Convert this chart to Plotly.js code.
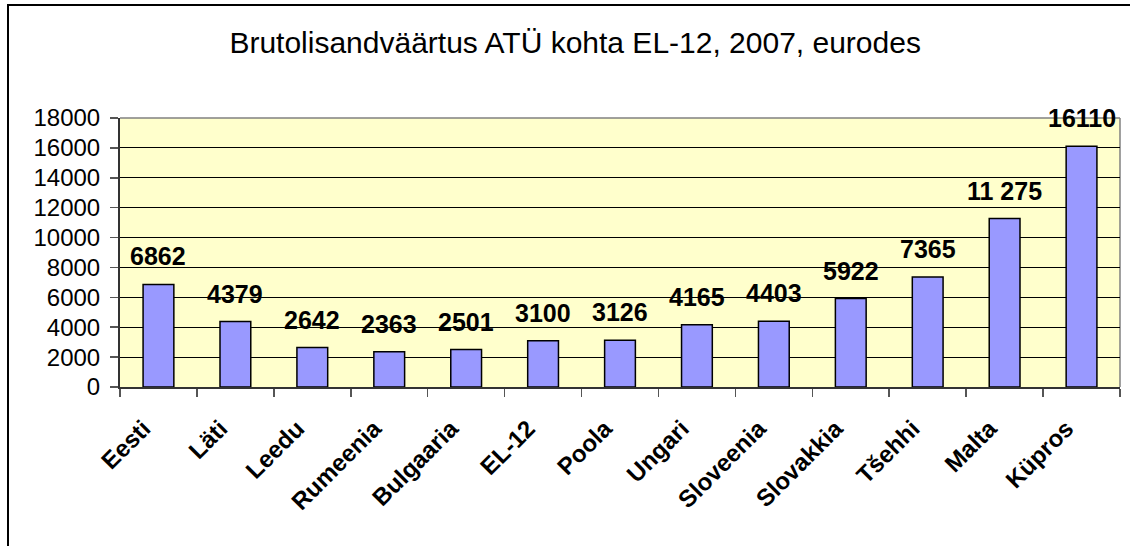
<!DOCTYPE html>
<html>
<head>
<meta charset="utf-8">
<script src="https://cdn.plot.ly/plotly-3.0.1.min.js"></script>
<style>html,body{margin:0;padding:0;background:#fff;}#chart{width:1130px;height:546px;}</style>
</head>
<body>
<div id="chart"></div>
<script>
const categories = ["Eesti", "Läti", "Leedu", "Rumeenia", "Bulgaaria", "EL-12", "Poola", "Ungari", "Sloveenia", "Slovakkia", "Tšehhi", "Malta", "Küpros"];
const values = [6862, 4379, 2642, 2363, 2501, 3100, 3126, 4165, 4403, 5922, 7365, 11275, 16110];
const valueLabels = ["6862", "4379", "2642", "2363", "2501", "3100", "3126", "4165", "4403", "5922", "7365", "11 275", "16110"];
const yTicks = [0, 2000, 4000, 6000, 8000, 10000, 12000, 14000, 16000, 18000];

const FONT = "Liberation Sans, Arial, sans-serif";

const trace = {
  type: "bar",
  x: categories,
  y: values,
  marker: { color: "#9999FF", line: { color: "#000000", width: 1.5 } },
  width: 0.4,
  hoverinfo: "x+y"
};

const annotations = categories.map((c, i) => ({
  x: c, y: values[i], xref: "x", yref: "y",
  text: valueLabels[i], showarrow: false,
  yanchor: "bottom", yshift: 12,
  font: { family: FONT, size: 25, color: "#000", weight: "bold" }
}));

const layout = {
  width: 1130, height: 546,
  margin: { l: 120, r: 10, t: 118, b: 159 },
  paper_bgcolor: "#FFFFFF",
  plot_bgcolor: "#FFFFCC",
  showlegend: false,
  bargap: 0.6,
  title: {
    text: "Brutolisandväärtus ATÜ kohta EL-12, 2007, eurodes",
    font: { family: FONT, size: 30, color: "#000" },
    xref: "container", x: 0.509, xanchor: "center",
    yref: "container", y: 0.923, yanchor: "middle"
  },
  xaxis: {
    type: "category",
    tickangle: -45,
    tickfont: { family: FONT, size: 24, color: "#000", weight: "bold" },
    ticks: "outside", ticklen: 8, tickcolor: "#555", tickwidth: 1.5,
    tickson: "boundaries",
    ticklabelshift: -15, ticklabelstandoff: 16,
    showline: true, linecolor: "#333", linewidth: 2,
    showgrid: false, zeroline: false, fixedrange: true
  },
  yaxis: {
    range: [0, 18000],
    tickvals: yTicks,
    ticktext: yTicks.map(String),
    tickfont: { family: FONT, size: 24, color: "#000" },
    ticks: "outside", ticklen: 8, tickcolor: "#555", tickwidth: 1.5,
    ticklabelstandoff: 5,
    showline: true, linecolor: "#333", linewidth: 2,
    showgrid: true, gridcolor: "#000", gridwidth: 1,
    zeroline: false, fixedrange: true
  },
  annotations: annotations,
  shapes: [
    { type: "line", xref: "paper", yref: "paper", x0: 0, x1: 1, y0: 1, y1: 1, line: { color: "#808080", width: 1.5 }, layer: "below" },
    { type: "line", xref: "paper", yref: "paper", x0: 1, x1: 1, y0: 0, y1: 1, line: { color: "#808080", width: 1.5 }, layer: "below" },
    { type: "path", xref: "paper", yref: "paper", path: "M -0.112,-0.8 L -0.112,1.42 L 1.1,1.42", line: { color: "#000", width: 2 } }
  ]
};

Plotly.newPlot("chart", [trace], layout, { displayModeBar: false, staticPlot: true });
</script>
</body>
</html>
